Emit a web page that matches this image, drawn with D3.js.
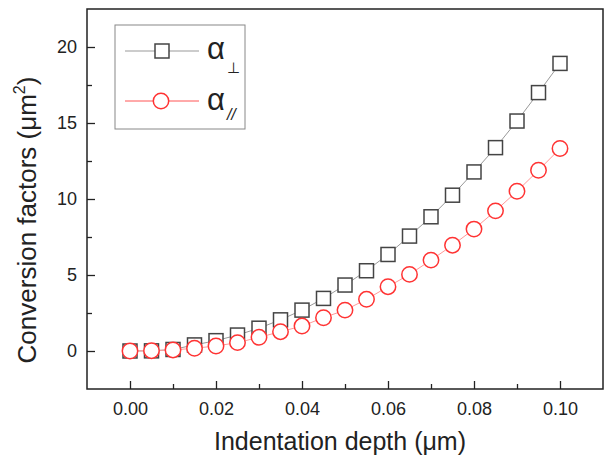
<!DOCTYPE html>
<html>
<head>
<meta charset="utf-8">
<script src="https://cdn.jsdelivr.net/npm/d3@7"></script>
<style>
  body { margin: 0; background: #fff; }
  text { font-family: "Liberation Sans", Arial, sans-serif; }
</style>
</head>
<body>
<div id="chart"></div>
<script>
// indentation depth (um)
const depth = [0, 0.005, 0.01, 0.015, 0.02, 0.025, 0.03, 0.035, 0.04, 0.045, 0.05,
  0.055, 0.06, 0.065, 0.07, 0.075, 0.08, 0.085, 0.09, 0.095, 0.1];
// alpha perpendicular
const alphaPerp = [0, 0.01, 0.1, 0.4, 0.68, 1.05, 1.5, 2.05, 2.69, 3.46, 4.34,
  5.28, 6.35, 7.56, 8.83, 10.25, 11.78, 13.38, 15.13, 17.0, 18.92];
// alpha parallel
const alphaPar = [0, 0.02, 0.07, 0.18, 0.33, 0.55, 0.9, 1.27, 1.64, 2.19, 2.69,
  3.4, 4.23, 5.04, 5.98, 6.96, 8.02, 9.22, 10.51, 11.89, 13.32];
const xTicks = [0, 0.02, 0.04, 0.06, 0.08, 0.1];
const xMinor = [0.01, 0.03, 0.05, 0.07, 0.09];
const yTicks = [0, 5, 10, 15, 20];
const yMinor = [2.5, 7.5, 12.5, 17.5];

const W = 604, H = 457;
const margin = {top: 9, right: 1, bottom: 68, left: 87};
const width = W - margin.left - margin.right,
  height = H - margin.top - margin.bottom;

const svg = d3.select("#chart").append("svg")
  .attr("width", W)
  .attr("height", H)
  .append("g")
  .attr("transform", "translate(" + margin.left + "," + margin.top + ")");

const x = d3.scaleLinear().domain([-0.01, 0.11]).range([0, width]);
const y = d3.scaleLinear().domain([-2.5, 22.5]).range([height, 0]);

// axes, ticks pointing inward
svg.append("g")
  .attr("transform", "translate(0," + height + ")")
  .call(d3.axisBottom(x).tickValues(xTicks).tickSize(-8).tickPadding(13)
    .tickFormat(d3.format(".2f")));
svg.append("g")
  .attr("transform", "translate(0," + height + ")")
  .call(d3.axisBottom(x).tickValues(xMinor).tickSize(-5).tickFormat(""));
svg.append("g")
  .call(d3.axisLeft(y).tickValues(yTicks).tickSize(-8).tickPadding(10));
svg.append("g")
  .call(d3.axisLeft(y).tickValues(yMinor).tickSize(-5).tickFormat(""));

svg.selectAll(".domain").remove();
svg.selectAll(".tick line").attr("stroke", "#222").attr("stroke-width", 1.3);
svg.selectAll(".tick text")
  .style("font-size", "18px")
  .attr("fill", "#222");

// frame
svg.append("rect")
  .attr("width", width)
  .attr("height", height)
  .attr("fill", "none")
  .attr("stroke", "#222")
  .attr("stroke-width", 1.5);

const pts = (vals) => depth.map((d, i) => ({x: d, y: vals[i]}));
const line = d3.line().x(d => x(d.x)).y(d => y(d.y));

// perpendicular series
svg.append("path")
  .datum(pts(alphaPerp))
  .attr("fill", "none")
  .attr("stroke", "#999")
  .attr("stroke-width", 1)
  .attr("d", line);
svg.selectAll(".sq")
  .data(pts(alphaPerp))
  .enter().append("rect")
  .attr("x", d => x(d.x) - 7)
  .attr("y", d => y(d.y) - 7)
  .attr("width", 14)
  .attr("height", 14)
  .attr("fill", "#fff")
  .attr("stroke", "#444")
  .attr("stroke-width", 1.5);

// parallel series
svg.append("path")
  .datum(pts(alphaPar))
  .attr("fill", "none")
  .attr("stroke", "#f99")
  .attr("stroke-width", 1)
  .attr("d", line);
svg.selectAll(".ci")
  .data(pts(alphaPar))
  .enter().append("circle")
  .attr("cx", d => x(d.x))
  .attr("cy", d => y(d.y))
  .attr("r", 7.7)
  .attr("fill", "#fff")
  .attr("stroke", "#f33")
  .attr("stroke-width", 1.5);

// axis titles
svg.append("text")
  .attr("x", width / 2 - 5)
  .attr("y", height + 61)
  .attr("text-anchor", "middle")
  .style("font-size", "25px")
  .attr("fill", "#222")
  .text("Indentation depth (\u03bcm)");

const yl = svg.append("text")
  .attr("transform", "translate(-51," + (height / 2 + 21) + ") rotate(-90)")
  .attr("text-anchor", "middle")
  .style("font-size", "26px")
  .attr("fill", "#222");
yl.append("tspan").text("Conversion factors (\u03bcm");
yl.append("tspan").attr("dy", -11).style("font-size", "16px").text("2");
yl.append("tspan").attr("dy", 11).text(")");

// legend
const lg = svg.append("g").attr("transform", "translate(28,16)");
lg.append("rect")
  .attr("width", 130)
  .attr("height", 104)
  .attr("fill", "#fff")
  .attr("stroke", "#888")
  .attr("stroke-width", 1);
lg.append("line").attr("x1", 10).attr("x2", 84).attr("y1", 26).attr("y2", 26)
  .attr("stroke", "#999");
lg.append("rect").attr("x", 40).attr("y", 19).attr("width", 14).attr("height", 14)
  .attr("fill", "#fff").attr("stroke", "#444").attr("stroke-width", 1.5);
lg.append("line").attr("x1", 10).attr("x2", 84).attr("y1", 76).attr("y2", 76)
  .attr("stroke", "#f55");
lg.append("circle").attr("cx", 46).attr("cy", 76).attr("r", 7.7)
  .attr("fill", "#fff").attr("stroke", "#f33").attr("stroke-width", 1.5);

const t1 = lg.append("text").attr("x", 92).attr("y", 34)
  .style("font-size", "31px").attr("fill", "#222");
t1.append("tspan").text("\u03b1");
t1.append("tspan").attr("dx", 2).attr("dy", 14).style("font-size", "15px").text("\u22a5");
const t2 = lg.append("text").attr("x", 92).attr("y", 85)
  .style("font-size", "31px").attr("fill", "#222");
t2.append("tspan").text("\u03b1");
t2.append("tspan").attr("dx", 2).attr("dy", 10).style("font-size", "16px")
  .style("font-style", "italic").text("//");
</script>
</body>
</html>
